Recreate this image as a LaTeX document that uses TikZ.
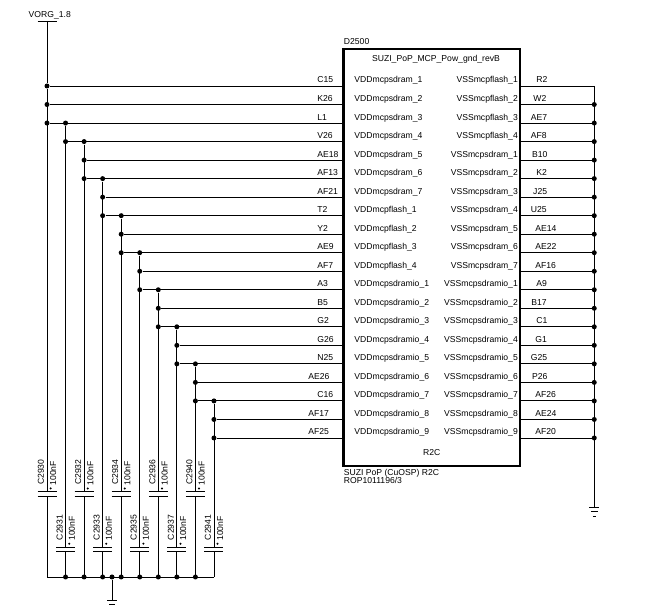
\documentclass[tikz,border=0pt]{standalone}
\usepackage{fontspec}
\setmainfont{Liberation Sans}
\tikzset{
    wire/.style={line width=1pt},
    txt/.style={inner sep=0pt, font=\fontsize{9.8}{11}\selectfont},
    jdot/.style={circle, fill=black, inner sep=0pt, minimum size=0.2cm},
    poldot/.style={circle, fill=black, inner sep=0pt, minimum size=0.09cm}
}
\begin{document}
\begin{tikzpicture}[wire]
            \useasboundingbox (0,0) rectangle (26.12,24.28);

            \node[draw, line width=2.4pt, inner sep=0pt, minimum width=7.06cm, minimum height=16.68cm] (chip) at (17.27,13.98) {};
            \node[txt, anchor=base west] (refdes) at (13.74,22.48) {D2500};
            \node[txt, anchor=base] (title) at (17.44,21.82) {SUZI\_PoP\_MCP\_Pow\_gnd\_revB};
            \node[txt, anchor=base] (variant) at (17.27,6.04) {R2C};
            \node[txt, anchor=base west] (descr) at (13.74,5.24) {SUZI PoP (CuOSP) R2C};
            \node[txt, anchor=base west] (partno) at (13.74,4.92) {ROP1011196/3};

            % pins of the chip, VSS rail on the right
            \foreach \i/\vdd/\lpin/\lx/\vss/\rpin/\rx in {
                1/VDDmcpsdram\_1/C15/12.68/VSSmcpflash\_1/R2/21.44,
                2/VDDmcpsdram\_2/K26/12.68/VSSmcpflash\_2/W2/21.32,
                3/VDDmcpsdram\_3/L1/12.68/VSSmcpflash\_3/AE7/21.22,
                4/VDDmcpsdram\_4/V26/12.68/VSSmcpflash\_4/AF8/21.22,
                5/VDDmcpsdram\_5/AE18/12.68/VSSmcpsdram\_1/B10/21.27,
                6/VDDmcpsdram\_6/AF13/12.68/VSSmcpsdram\_2/K2/21.44,
                7/VDDmcpsdram\_7/AF21/12.68/VSSmcpsdram\_3/J25/21.31,
                8/VDDmcpflash\_1/T2/12.68/VSSmcpsdram\_4/U25/21.22,
                9/VDDmcpflash\_2/Y2/12.68/VSSmcpsdram\_5/AE14/21.4,
                10/VDDmcpflash\_3/AE9/12.68/VSSmcpsdram\_6/AE22/21.4,
                11/VDDmcpflash\_4/AF7/12.68/VSSmcpsdram\_7/AF16/21.4,
                12/VDDmcpsdramio\_1/A3/12.68/VSSmcpsdramio\_1/A9/21.44,
                13/VDDmcpsdramio\_2/B5/12.68/VSSmcpsdramio\_2/B17/21.24,
                14/VDDmcpsdramio\_3/G2/12.68/VSSmcpsdramio\_3/C1/21.44,
                15/VDDmcpsdramio\_4/G26/12.68/VSSmcpsdramio\_4/G1/21.4,
                16/VDDmcpsdramio\_5/N25/12.68/VSSmcpsdramio\_5/G25/21.22,
                17/VDDmcpsdramio\_6/AE26/12.32/VSSmcpsdramio\_6/P26/21.27,
                18/VDDmcpsdramio\_7/C16/12.68/VSSmcpsdramio\_7/AF26/21.4,
                19/VDDmcpsdramio\_8/AF17/12.32/VSSmcpsdramio\_8/AE24/21.4,
                20/VDDmcpsdramio\_9/AF25/12.32/VSSmcpsdramio\_9/AF20/21.4} {
                \pgfmathsetmacro\ypos{20.84-0.741*(\i-1)}
                \coordinate (row\i) at (13.74,\ypos);
                \coordinate (pin\i) at (20.8,\ypos);
                \coordinate (vss\i) at (23.77,\ypos);
                \node[txt, anchor=base west] (vdd\i) at (14.16,\ypos+0.12) {\vdd};
                \node[txt, anchor=base east] (vssname\i) at (20.73,\ypos+0.12) {\vss};
                \node[txt, anchor=base west] (lpin\i) at (\lx,\ypos+0.12) {\lpin};
                \node[txt, anchor=base west] (rpin\i) at (\rx,\ypos+0.12) {\rpin};
                \draw (pin\i) -- (vss\i);
            }
            \foreach \i in {2,...,20}
                \node[jdot] (vssdot\i) at (vss\i) {};
            \coordinate (gndr) at (23.77,4.0);
            \draw (vss1) -- (gndr);
            \draw ([xshift=-0.2cm]gndr) -- ([xshift=0.2cm]gndr);
            \draw ([xshift=-0.13cm,yshift=-0.18cm]gndr) -- ([xshift=0.13cm,yshift=-0.18cm]gndr);
            \draw ([xshift=-0.06cm,yshift=-0.36cm]gndr) -- ([xshift=0.06cm,yshift=-0.36cm]gndr);

            % VDD rails with their capacitors
            \foreach \r/\first/\last/\cname/\capy in {
                1/1/3/C2930/4.61, 2/3/4/C2931/2.40, 3/4/6/C2932/4.61, 4/6/8/C2933/2.40,
                5/8/10/C2934/4.61, 6/10/12/C2935/2.40, 7/12/14/C2936/4.61, 8/14/16/C2937/2.40,
                9/16/18/C2940/4.61, 10/18/20/C2941/2.40} {
                \pgfmathsetmacro\railx{1.88+0.742*(\r-1)}
                \coordinate (capa\r) at (\railx,\capy);
                \coordinate (capb\r) at (\railx,\capy-0.18);
                \coordinate (bot\r) at (\railx,1.2);
                \foreach \i in {\first,...,\last} {
                    \node[jdot] (j\r-\i) at (capa\r |- row\i) {};
                    \draw (j\r-\i) -- (row\i);
                }
                \draw (j\r-\first) -- (capa\r);
                \draw (capb\r) -- (bot\r);
                \draw ([xshift=-0.38cm]capa\r) -- ([xshift=0.38cm]capa\r);
                \draw ([xshift=-0.38cm]capb\r) -- ([xshift=0.38cm]capb\r);
                \node[txt, rotate=90] (cname\r) at ([shift={(-0.24,0.78)}]capa\r) {\cname};
                \node[txt, rotate=90] (cval\r) at ([shift={(0.25,0.74)}]capa\r) {100nF};
                \node[poldot] (cpol\r) at ([shift={(0.145,0.13)}]capa\r) {};
            }

            % supply on top, ground below
            \coordinate (vorg) at (1.88,23.44);
            \node[txt, anchor=base] (vorgname) at (1.99,23.56) {VORG\_1.8};
            \draw (vorg) -- (j1-1);
            \draw ([xshift=-0.38cm]vorg) -- ([xshift=0.38cm]vorg);

            \draw (bot1) -- (bot10);
            \foreach \r in {2,...,9}
                \node[jdot] (botdot\r) at (bot\r) {};
            \node[jdot] (gnddot) at (4.48,1.2) {};
            \coordinate (gndb) at (4.48,0.28);
            \draw (gnddot) -- (gndb);
            \draw ([xshift=-0.2cm]gndb) -- ([xshift=0.2cm]gndb);
            \draw ([xshift=-0.12cm,yshift=-0.16cm]gndb) -- ([xshift=0.12cm,yshift=-0.16cm]gndb);
        \end{tikzpicture}
\end{document}
